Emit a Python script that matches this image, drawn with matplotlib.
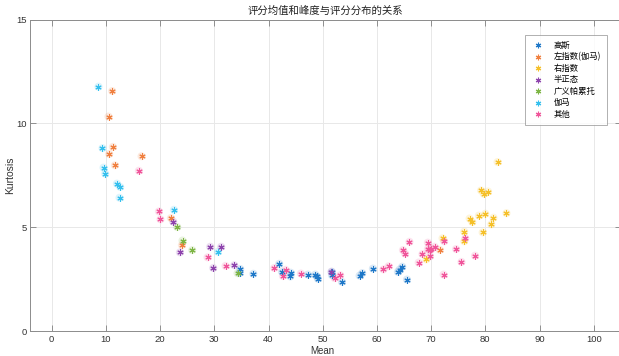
import matplotlib
matplotlib.use("Agg")
import matplotlib.pyplot as plt
from matplotlib.lines import Line2D

plt.rcParams['font.family'] = ['Liberation Sans', 'Noto Sans CJK SC', 'DejaVu Sans']

title = "评分均值和峰度与评分分布的关系"
xlabel = "Mean"
ylabel = "Kurtosis"
labels = ["高斯", "左指数(伽马)", "右指数", "半正态", "广义帕累托", "伽马", "其他"]
colors = ["#1F78C8", "#F08040", "#F5C02A", "#8E44AD", "#7DB544", "#35C0EE", "#F0569B"]

gauss_x = [34.78, 34.65, 37.2, 41.97, 42.47, 44.1, 44.03, 47.27, 48.62, 48.93, 49.11,
           51.7, 51.7, 53.54, 56.8, 57.29, 59.26, 63.87, 64.17, 64.67, 65.54]
gauss_y = [2.99, 2.79, 2.76, 3.24, 2.86, 2.81, 2.63, 2.72, 2.72, 2.63, 2.52,
           2.85, 2.69, 2.37, 2.67, 2.79, 3.01, 2.85, 2.96, 3.10, 2.48]

leftexp_x = [11.16, 10.48, 11.29, 10.61, 16.57, 11.66, 21.99, 24.02, 71.6]
leftexp_y = [11.56, 10.33, 8.87, 8.53, 8.42, 7.98, 5.44, 4.14, 3.91]

rightexp_x = [82.25, 79.2, 79.7, 80.5, 83.9, 80.0, 78.8, 81.5, 77.1, 77.6, 81.1,
              76.1, 79.5, 76.1, 72.1, 69.1]
rightexp_y = [8.14, 6.77, 6.61, 6.72, 5.68, 5.65, 5.56, 5.46, 5.42, 5.25, 5.14,
              4.79, 4.75, 4.32, 4.47, 3.45]

halfnorm_x = [22.42, 23.65, 29.24, 31.27, 29.80, 33.67, 51.6]
halfnorm_y = [5.27, 3.79, 4.06, 4.06, 3.04, 3.17, 2.86]

pareto_x = [23.15, 24.13, 25.92, 34.28]
pareto_y = [5.01, 4.36, 3.90, 2.79]

gamma_x = [8.63, 9.37, 9.56, 9.87, 12.03, 12.64, 12.51, 22.55, 30.66]
gamma_y = [11.77, 8.81, 7.87, 7.58, 7.10, 6.94, 6.42, 5.84, 3.82]

other_x = [16.08, 19.78, 20.07, 28.75, 32.07, 41.05, 43.15, 42.65, 45.97, 52.2, 53.23,
           61.2, 62.14, 64.8, 65.2, 66.0, 67.7, 68.4, 69.4, 69.4, 69.7, 70.0, 69.8,
           70.63, 72.4, 72.3, 74.6, 75.6, 76.3, 78.1]
other_y = [7.72, 5.76, 5.38, 3.55, 3.14, 3.04, 2.95, 2.65, 2.77, 2.55, 2.69,
           2.97, 3.12, 3.90, 3.73, 4.30, 3.30, 3.71, 4.26, 3.95, 3.90, 3.95, 3.60,
           4.06, 4.32, 2.72, 3.95, 3.33, 4.46, 3.63]

series = [(gauss_x, gauss_y), (leftexp_x, leftexp_y), (rightexp_x, rightexp_y),
          (halfnorm_x, halfnorm_y), (pareto_x, pareto_y), (gamma_x, gamma_y),
          (other_x, other_y)]

xticks = list(range(0, 101, 10))
yticks = [0, 5, 10, 15]

fig = plt.figure(figsize=(6.19, 3.56), dpi=100)
ax = fig.add_axes([0.0485, 0.07, 0.9545, 0.875])

ast = (6, 2, 0)
for (xs, ys), c in zip(series, colors):
    ax.scatter(xs, ys, s=34, color=c, alpha=0.16, edgecolors='none', zorder=2)
    ax.scatter(xs, ys, s=15, marker=ast, color=c, linewidths=0.8, zorder=3)

ax.set_xlim(-4, 105)
ax.set_ylim(0, 15)
ax.set_xticks(xticks)
ax.set_yticks(yticks)
ax.grid(True, color='#e8e8e8', linewidth=0.7)
ax.set_axisbelow(True)
ax.tick_params(direction='in', length=4, width=0.6, colors='#808080',
               labelcolor='#333333', labelsize=6.8, top=True, right=True, pad=2.5)
for sp in ax.spines.values():
    sp.set_color('#8c8c8c')
    sp.set_linewidth(0.7)

ax.set_title(title, fontsize=7.5, color='#222222', pad=4,
             family=['Noto Sans CJK SC', 'DejaVu Sans'])
ax.set_xlabel(xlabel, fontsize=7, color='#333333')
ax.xaxis.set_label_coords((50 + 4) / 109, -0.048)
ax.set_ylabel(ylabel, fontsize=7.5, color='#333333', labelpad=1)

handles = [Line2D([], [], linestyle='none', marker=ast, markersize=4,
                  color=c, markeredgewidth=0.8) for c in colors]
leg = ax.legend(handles, labels, loc='upper right',
                bbox_to_anchor=(607 / 619, (356 - 35) / 356),
                bbox_transform=fig.transFigure,
                prop={'family': ['Noto Sans CJK SC', 'DejaVu Sans'], 'size': 6},
                frameon=True, fancybox=False, edgecolor='#8c8c8c',
                labelspacing=0.3, handletextpad=1.1, borderpad=0.7,
                handlelength=1.6, borderaxespad=0)
leg.get_frame().set_linewidth(0.6)

fig.savefig("out.png", dpi=100)
